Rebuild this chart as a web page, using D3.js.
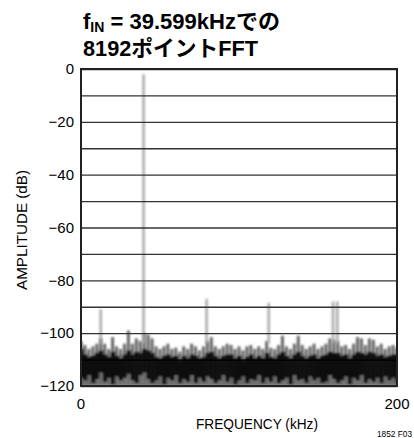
<!DOCTYPE html>
<html>
<head>
<meta charset="utf-8">
<script src="https://cdn.jsdelivr.net/npm/d3@7"></script>
<style>
  body { margin: 0; background: #fff; }
  text { font-family: "Liberation Sans Narrow", "Liberation Sans", "Noto Sans CJK JP", sans-serif; }
</style>
</head>
<body>
<div id="chart"></div>
<script>
// values
var yTicks = [0, -10, -20, -30, -40, -50, -60, -70, -80, -90, -100, -110, -120];
var xTickLabels = [0, 200];

// harmonics / spurs (kHz, dB)
var spikeFreq = [12.5, 39.6, 79.5, 118.8, 159.5, 162.2];
var spikeDb = [-91, -2, -87, -88.5, -88, -88];

// noise floor, one value every 2.5 kHz from 0 to 200
var binStep = 2.5;
var noiseTop = [-103, -104.5, -106, -105, -104, -102, -104, -106, -101.5, -105, -106, -104, -99, -104, -102, -103, -100, -100.5, -102, -105,
  -106, -105, -104, -106, -105.5, -107, -105, -106, -104, -105, -106.5, -105, -103, -101.5, -105, -106, -105, -104, -104.5, -106,
  -105, -106.5, -105, -104.5, -106, -105, -106, -103, -105.5, -106, -104.5, -101, -105, -106, -104, -101, -104.5, -106, -105, -104,
  -106, -105, -104, -102, -102.5, -103, -105, -104.5, -106, -104, -101.5, -102, -104.5, -102, -102.5, -105, -104, -106, -105, -104.5, -105.5];
var noiseCore = [-106, -108, -109, -108.5, -107.5, -106.5, -108, -109, -107, -108.5, -109.5, -108, -106.5, -108, -107, -107.5, -106, -106.5, -107.5, -109,
  -109.5, -108.5, -108, -109, -108.5, -110, -108.5, -109.5, -108, -108.5, -109.5, -109, -107.5, -107, -108.5, -109.5, -108.5, -108, -108, -109.5,
  -108.5, -110, -109, -108, -109.5, -108.5, -109.5, -107.5, -109, -109.5, -108, -107, -108.5, -109.5, -108, -107, -108.5, -109.5, -108.5, -108,
  -109.5, -108.5, -108, -107, -107.5, -107.5, -108.5, -108, -109.5, -108, -107, -107.5, -108, -107, -107.5, -108.5, -108, -109, -108.5, -108, -108];
var noiseBase = [-117, -118, -116, -119, -117.5, -115, -118.5, -117, -119.5, -116.5, -118, -117, -115.5, -118, -119, -116, -115, -117.5, -119, -118,
  -116.5, -119.5, -117, -118, -116, -119, -117.5, -118.5, -116, -119, -117, -118.5, -116.5, -117.5, -119, -118, -116, -118.5, -117, -119.5,
  -118, -116.5, -119, -117.5, -118, -116, -119, -117, -118.5, -116.5, -119, -118, -117, -119.5, -116, -118, -117.5, -119, -116.5, -118,
  -117, -119, -118.5, -116, -117.5, -119, -118, -116.5, -119.5, -117, -118, -116, -119, -117.5, -118.5, -117, -119, -116.5, -118, -117, -118.5];

var margin = {top: 69, right: 17, bottom: 52, left: 81},
    width = 414 - margin.left - margin.right,
    height = 438 - margin.top - margin.bottom;

var svg = d3.select("#chart")
  .append("svg")
  .attr("width", 414)
  .attr("height", 438);

var defs = svg.append("defs");
defs.append("filter").attr("id", "soft")
  .attr("x", "-10%").attr("y", "-10%").attr("width", "120%").attr("height", "120%")
  .append("feGaussianBlur").attr("stdDeviation", 0.9);
defs.append("clipPath").attr("id", "plotclip")
  .append("rect").attr("width", width).attr("height", height);

// title
var title = svg.append("text")
  .attr("x", 83).attr("y", 29)
  .attr("textLength", 197).attr("lengthAdjust", "spacingAndGlyphs")
  .style("font-weight", "bold").style("font-size", "22px");
title.append("tspan").text("f");
title.append("tspan").attr("dy", 3).style("font-size", "14px").text("IN");
title.append("tspan").attr("dy", -3).text(" = 39.599kHzでの");
svg.append("text")
  .attr("x", 83).attr("y", 56)
  .attr("textLength", 175).attr("lengthAdjust", "spacingAndGlyphs")
  .style("font-weight", "bold").style("font-size", "22px")
  .text("8192ポイントFFT");

var g = svg.append("g")
  .attr("transform", "translate(" + margin.left + "," + margin.top + ")");

var x = d3.scaleLinear().domain([0, 200]).range([0, width]);
var y = d3.scaleLinear().domain([-120, 0]).range([height, 0]);

var bins = noiseTop.map(function(d, i) {
  return {f: i * binStep, top: d, core: noiseCore[i], base: noiseBase[i]};
});
var bw = x(binStep) - x(0);

var plot = g.append("g").attr("clip-path", "url(#plotclip)");
var noise = plot.append("g").attr("filter", "url(#soft)");

// lighter bottom strip
noise.selectAll("rect.low")
  .data(bins).enter().append("rect")
  .attr("class", "low")
  .attr("x", function(d) { return x(d.f) - bw / 2; })
  .attr("width", bw)
  .attr("y", function(d) { return y(d.base); })
  .attr("height", function(d) { return y(-120) - y(d.base); })
  .style("fill", "#6a6a6a");

// gray upper fringe
noise.selectAll("rect.top")
  .data(bins).enter().append("rect")
  .attr("class", "top")
  .attr("x", function(d) { return x(d.f) - bw * 0.35; })
  .attr("width", bw * 0.7)
  .attr("y", function(d) { return y(d.top); })
  .attr("height", function(d) { return y(d.core) - y(d.top); })
  .style("fill", "#5a5a5a");

// black core
noise.selectAll("rect.core")
  .data(bins).enter().append("rect")
  .attr("class", "core")
  .attr("x", function(d) { return x(d.f) - bw / 2; })
  .attr("width", bw + 0.5)
  .attr("y", function(d) { return y(d.core); })
  .attr("height", function(d) { return y(d.base) - y(d.core); })
  .style("fill", "#111");

// spikes
var spikes = spikeFreq.map(function(f, i) { return {f: f, db: spikeDb[i]}; });
plot.append("g").attr("filter", "url(#soft)")
  .selectAll("line")
  .data(spikes).enter().append("line")
  .attr("x1", function(d) { return x(d.f); })
  .attr("x2", function(d) { return x(d.f); })
  .attr("y1", function(d) { return y(d.db); })
  .attr("y2", y(-104))
  .style("stroke", "#a8a8a8")
  .style("stroke-width", 2.5);

// grid lines + y labels
var yAxis = g.append("g")
  .call(d3.axisLeft(y)
    .tickValues(yTicks)
    .tickSize(-width)
    .tickPadding(8)
    .tickFormat(function(d) { return d % 20 === 0 ? (d < 0 ? "\u2212" + (-d) : d) : ""; }));
yAxis.select(".domain").remove();
yAxis.selectAll(".tick line")
  .style("stroke", function(d) { return d === -110 ? "#000" : "#333"; })
  .style("stroke-width", 1.3);
yAxis.selectAll(".tick text")
  .style("font-size", "15px")
  .style("font-family", null)
  .style("fill", "#000")
  .attr("x", -7);

// x labels
g.selectAll("text.xl")
  .data(xTickLabels).enter().append("text")
  .attr("class", "xl")
  .attr("x", function(d) { return x(d); })
  .attr("y", height + 23)
  .attr("text-anchor", "middle")
  .style("font-size", "15px")
  .text(function(d) { return d; });

// frame
g.append("rect")
  .attr("width", width).attr("height", height)
  .style("fill", "none")
  .style("stroke", "#222")
  .style("stroke-width", 2);

// axis titles
svg.append("text")
  .attr("x", 196).attr("y", 429)
  .attr("textLength", 122).attr("lengthAdjust", "spacingAndGlyphs")
  .style("font-size", "15px")
  .text("FREQUENCY (kHz)");
svg.append("text")
  .attr("transform", "translate(27,290) rotate(-90)")
  .attr("textLength", 120).attr("lengthAdjust", "spacingAndGlyphs")
  .style("font-size", "14px")
  .text("AMPLITUDE (dB)");
svg.append("text")
  .attr("x", 377).attr("y", 437)
  .attr("textLength", 35).attr("lengthAdjust", "spacingAndGlyphs")
  .style("font-size", "9px")
  .text("1852 F03");
</script>
</body>
</html>
